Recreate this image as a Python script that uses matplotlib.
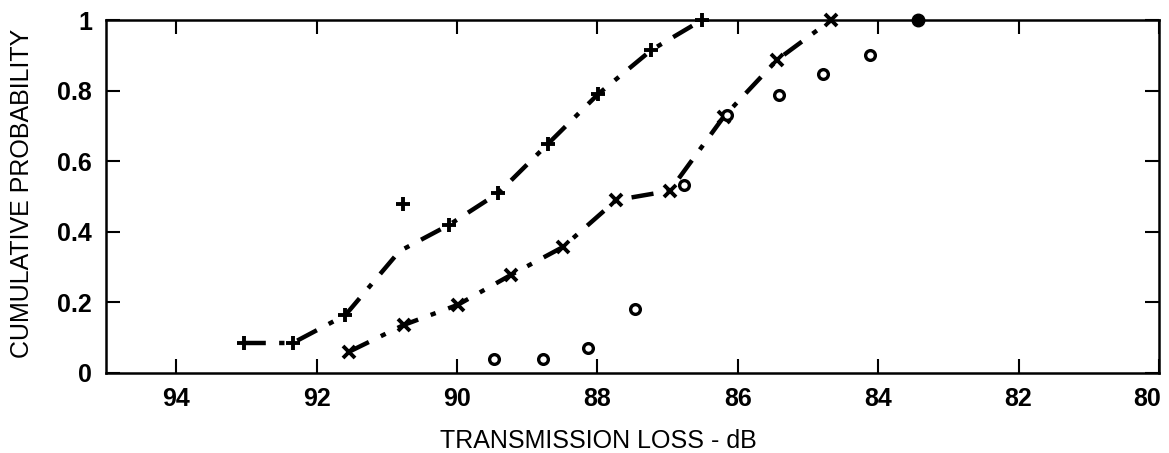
import matplotlib
matplotlib.use("Agg")
import matplotlib.pyplot as plt
import matplotlib.transforms as mtransforms

plt.rcParams['font.family'] = ['Liberation Sans', 'DejaVu Sans']

# Series A: "+" markers with dash-dot line
plus_x = [93.04, 92.34, 91.59, 90.82, 90.11, 89.41, 88.70, 87.99, 87.23, 86.51]
plus_y = [0.085, 0.085, 0.164, 0.345, 0.42, 0.51, 0.65, 0.79, 0.915, 1.0]
plus_mark_idx = [0, 1, 2, 4, 5, 6, 7, 8, 9]
# isolated "+" point
plus_out_x = [90.77]
plus_out_y = [0.48]

# Series B: "x" markers with dash-dot line
cross_x = [91.54, 90.76, 89.99, 89.23, 88.49, 87.73, 86.97, 86.20, 85.44, 84.67]
cross_y = [0.06, 0.136, 0.193, 0.278, 0.357, 0.49, 0.516, 0.726, 0.887, 1.0]

# Series C: open circles
circ_x = [89.47, 88.77, 88.13, 87.46, 86.77, 86.16, 85.41, 84.79, 84.11]
circ_y = [0.04, 0.04, 0.071, 0.18, 0.532, 0.73, 0.787, 0.847, 0.90]
# filled circle
fill_x = [83.43]
fill_y = [1.0]

xticks = [94, 92, 90, 88, 86, 84, 82, 80]
yticks = [0, 0.2, 0.4, 0.6, 0.8, 1]
ytick_labels = ['0', '0.2', '0.4', '0.6', '0.8', '1']

fig = plt.figure(figsize=(11.69, 4.53), dpi=100)
ax = fig.add_axes([106/1169, 1-373/453, (1159-106)/1169, (373-20)/453])

dash = (0, (5, 3, 1.2, 3))
ax.plot(plus_x, plus_y, color='black', lw=3.2, linestyle=dash, marker='+',
        markevery=plus_mark_idx, markersize=10, markeredgewidth=2.8, clip_on=False)
ax.plot(plus_out_x, plus_out_y, linestyle='none', marker='+', color='black',
        markersize=10, markeredgewidth=2.8)
ax.plot(cross_x, cross_y, color='black', lw=3.2, linestyle=dash, marker='x',
        markersize=9, markeredgewidth=2.8, clip_on=False)
ax.plot(circ_x, circ_y, linestyle='none', marker='o', markerfacecolor='white',
        markeredgecolor='black', markersize=7, markeredgewidth=2.4)
ax.plot(fill_x, fill_y, linestyle='none', marker='o', color='black',
        markersize=9, clip_on=False)

ax.set_xlim(95, 80)
ax.set_ylim(0, 1)
ax.set_xticks(xticks)
ax.set_xticklabels([str(v) for v in xticks])
ax.set_yticks(yticks)
ax.set_yticklabels(ytick_labels)
ax.tick_params(direction='in', length=10, width=1.5, labelsize=18,
               top=True, right=True, pad=10)
for lab in ax.get_xticklabels() + ax.get_yticklabels():
    lab.set_fontweight('bold')
# shift last x tick label slightly left so it stays inside the figure
last = ax.get_xticklabels()[-1]
last.set_transform(last.get_transform() +
                   mtransforms.ScaledTranslation(-12/100, 0, fig.dpi_scale_trans))
for s in ax.spines.values():
    s.set_linewidth(1.8)

fig.text(598/1169, 1-441/453, 'TRANSMISSION LOSS - dB', ha='center', va='center', fontsize=18)
fig.text(22/1169, 1-193/453, 'CUMULATIVE PROBABILITY', ha='center', va='center',
         rotation=90, fontsize=18)

fig.savefig('out.png', dpi=100)
